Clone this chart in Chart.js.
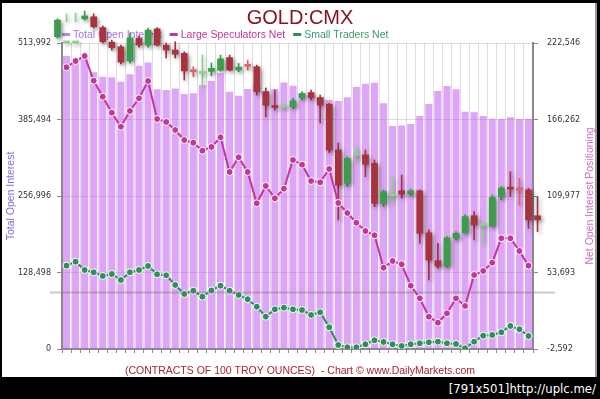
<!DOCTYPE html>
<html>
<head>
<meta charset="utf-8">
<script src="https://cdn.jsdelivr.net/npm/chart.js@4.4.0/dist/chart.umd.min.js"></script>
<style>
  html, body { margin: 0; padding: 0; background: #000; width: 600px; height: 399px; overflow: hidden; }
  #panel { position: absolute; left: 2px; top: 3px; width: 593px; height: 374px; background: #fff; border-right: 2px solid #9a9a9a; }
  #stamp { position: absolute; right: 4px; top: 381px; color: #fff; font: 13px "DejaVu Sans Condensed", "DejaVu Sans", sans-serif; }
</style>
</head>
<body>
<div id="panel"><canvas id="grafico" width="593" height="374"></canvas></div>
<div id="stamp">[791x501]http://uplc.me/</div>
<script>
// x axis: one bar per week, 25 Sep 12 .. 17 Sep 13, label every 8 weeks
const tickLabels = ['25 Sep 12', '20 Nov 12', '15 Jan 13', '12 Mar 13', '07 May 13', '02 Jul 13', '27 Aug 13'];
const labelEvery = 8;

// left axis (contracts)
const leftMin = 0, leftMax = 513992, leftStep = 128498;
// right axis (net positions)
const rightMin = -2592, rightMax = 222546, rightStep = 56284.5;

const openInterest = [
  492150, 487100, 493800, 464800, 457400, 456400, 449000, 461400, 475900, 481200,
  436200, 435000, 437600, 428300, 429500, 443400, 450200, 463100, 432200, 425500,
  436700, 445100, 433400, 436700, 447600, 442300, 428300, 425000, 421600, 418200,
  416600, 422800, 440100, 445600, 447300, 412700, 374600, 375400, 377900, 391400,
  411500, 433400, 441800, 436200, 398600, 397600, 391400, 386800, 386300, 389200,
  386300, 386800
];

const largeSpec = [
  204670, 209300, 212980, 194810, 183040, 171270, 160970, 172520, 181860, 194590,
  166630, 164430, 158540, 151180, 149200, 143310, 146030, 153170, 127640, 138460,
  127640, 104610, 117340, 108290, 115360, 136470, 133010, 121020, 120060, 129850,
  104830, 97480, 90340, 84230, 81070, 57230, 62160, 59740, 43990, 34720,
  21190, 16770, 23690, 34720, 29060, 51860, 54810, 60910, 78860, 78860,
  69520, 58710
];

const smallTraders = [
  58710, 61650, 55540, 53850, 51130, 52600, 48190, 53850, 55540, 58490,
  52380, 51640, 44510, 37890, 40310, 35900, 40460, 43990, 40310, 37150,
  33990, 28540, 21190, 26630, 27810, 26630, 26110, 22440, 24420, 13390,
  370, -1330, -1330, 880, 3820, 2570, 880, -370, 880, 1620,
  2350, 2790, 1620, 1100, -2060, 2790, 7210, 7720, 9710, 14340,
  11920, 6990
];

// gold weekly candles (no axis shown), first candle is one week before the first bar
const priceStart = -1;
const priceOpen = [
  1740, 1784, 1784, 1783, 1788, 1762, 1727, 1716, 1682, 1736,
  1720, 1759, 1720, 1708, 1700, 1658, 1652, 1657, 1660, 1690,
  1660, 1671, 1668, 1608, 1574, 1571, 1572, 1594, 1606, 1594,
  1578, 1468, 1388, 1455, 1456, 1436, 1340, 1358, 1370, 1362,
  1370, 1269, 1202, 1189, 1256, 1269, 1310, 1287, 1285, 1356,
  1377, 1374, 1372, 1310
];
const priceHigh = [
  1783, 1795, 1797, 1802, 1795, 1766, 1732, 1720, 1749, 1742,
  1761, 1762, 1725, 1728, 1704, 1668, 1696, 1677, 1696, 1696,
  1676, 1684, 1672, 1617, 1612, 1576, 1592, 1608, 1612, 1600,
  1580, 1485, 1452, 1476, 1468, 1444, 1372, 1403, 1408, 1374,
  1372, 1276, 1244, 1260, 1272, 1312, 1320, 1292, 1360, 1380,
  1416, 1400, 1376, 1356
];
const priceLow = [
  1737, 1776, 1776, 1780, 1761, 1725, 1708, 1675, 1677, 1715,
  1715, 1718, 1689, 1689, 1636, 1644, 1624, 1646, 1658, 1658,
  1656, 1660, 1600, 1548, 1564, 1568, 1568, 1588, 1588, 1533,
  1462, 1300, 1380, 1440, 1404, 1332, 1332, 1341, 1352, 1358,
  1244, 1156, 1184, 1186, 1252, 1268, 1252, 1244, 1284, 1348,
  1356, 1336, 1280, 1272
];
const priceClose = [
  1780, 1785, 1786, 1790, 1764, 1728, 1714, 1679, 1737, 1720,
  1756, 1720, 1708, 1698, 1658, 1656, 1653, 1664, 1687, 1660,
  1667, 1669, 1608, 1576, 1570, 1573, 1586, 1604, 1594, 1576,
  1468, 1384, 1448, 1456, 1434, 1340, 1368, 1360, 1362, 1370,
  1268, 1204, 1189, 1257, 1268, 1308, 1288, 1289, 1354, 1377,
  1374, 1372, 1300, 1300
];
const priceMin = 990, priceMax = 1725;

// grey guide line across the chart (right axis units)
const guideLine = [38990];

const fmt = v => Math.round(v).toLocaleString('en-US');

const candleColor = (o, c, light) => {
  if (c >= o) return light ? '#86d486' : '#3b9c4b';
  return light ? '#e2636c' : '#a8323e';
};
const candleColors = priceOpen.map((o, i) => candleColor(o, priceClose[i], Math.abs(priceClose[i] - o) < 3));

const decor = {
  id: 'decor',
  beforeDatasetsDraw(chart) {
    const c = chart.ctx;
    c.save();
    // title
    c.fillStyle = '#8a1520';
    c.font = '20px "Liberation Sans", Arial, sans-serif';
    c.textAlign = 'center';
    c.textBaseline = 'middle';
    c.fillText('GOLD:CMX', 298, 15);
    // legend
    const items = [
      ['Total Open Interest', '#a974e6', '#b98ae9'],
      ['Large Speculators Net', '#c4369a', '#c4369a'],
      ['Small Traders Net', '#3c9a6c', '#2f8f5a']
    ];
    c.font = '10.5px "Liberation Sans", Arial, sans-serif';
    c.textAlign = 'left';
    let x = 60;
    items.forEach(([txt, col, mark]) => {
      c.fillStyle = mark;
      c.fillRect(x, 30, 8, 3);
      x += 11;
      c.fillStyle = col;
      c.fillText(txt, x, 32);
      x += c.measureText(txt).width + 8;
    });
    // axis titles
    const a = chart.chartArea;
    const mid = (a.top + a.bottom) / 2;
    c.textAlign = 'center';
    c.save();
    c.translate(9, mid);
    c.rotate(-Math.PI / 2);
    c.fillStyle = '#7b6fe0';
    c.fillText('Total Open Interest', 0, 0);
    c.restore();
    c.save();
    c.translate(588, mid);
    c.rotate(-Math.PI / 2);
    c.fillStyle = '#d46cc4';
    c.fillText('Net Open Interest Positioning', 0, 0);
    c.restore();
    // footer
    c.font = '10.5px "Liberation Sans", Arial, sans-serif';
    c.fillStyle = '#a8242c';
    c.fillText('(CONTRACTS OF 100 TROY OUNCES)  - Chart \u00a9 www.DailyMarkets.com', 298, 368);
    c.restore();
  },
  afterDatasetsDraw(chart) {
    const c = chart.ctx;
    const a = chart.chartArea;
    const y = chart.scales.y2.getPixelForValue(guideLine[0]);
    c.save();
    c.strokeStyle = 'rgba(120,120,120,0.4)';
    c.lineWidth = 2;
    c.beginPath();
    c.moveTo(a.left - 12, y);
    c.lineTo(a.right + 22, y);
    c.stroke();
    c.restore();
  },
  beforeDatasetDraw(chart, args) {
    if (chart.data.datasets[args.index].candle) {
      const c = chart.ctx;
      c.save();
      c.shadowColor = 'rgba(0,0,0,0.35)';
      c.shadowBlur = 4;
      c.shadowOffsetX = 2;
      c.shadowOffsetY = 2;
    }
  },
  afterDatasetDraw(chart, args) {
    if (chart.data.datasets[args.index].candle) chart.ctx.restore();
  }
};

window.onload = function () {
  const ctx = document.getElementById('grafico').getContext('2d');
  const tickFont = { family: '"DejaVu Sans", Verdana, sans-serif', size: 8 };
  new Chart(ctx, {
    type: 'bar',
    data: {
      datasets: [
        {
          type: 'line',
          label: 'Large Speculators Net',
          data: largeSpec.map((v, i) => ({ x: i, y: v })),
          yAxisID: 'y2',
          borderColor: '#c4369a',
          borderWidth: 2,
          pointRadius: 3.5,
          pointBackgroundColor: '#c4369a',
          pointBorderColor: '#ffffff',
          pointBorderWidth: 1,
          order: 1
        },
        {
          type: 'line',
          label: 'Small Traders Net',
          data: smallTraders.map((v, i) => ({ x: i, y: v })),
          yAxisID: 'y2',
          borderColor: '#2f8f5a',
          borderWidth: 2,
          pointRadius: 3.5,
          pointBackgroundColor: '#2f8f5a',
          pointBorderColor: '#ffffff',
          pointBorderWidth: 1,
          order: 2
        },
        {
          label: 'body',
          candle: true,
          data: priceOpen.map((o, i) => ({ x: i + priceStart, y: [o, priceClose[i]] })),
          yAxisID: 'yP',
          backgroundColor: candleColors,
          barThickness: 6,
          minBarLength: 2,
          grouped: false,
          clip: false,
          order: 3
        },
        {
          label: 'wick',
          candle: true,
          data: priceHigh.map((h, i) => ({ x: i + priceStart, y: [priceLow[i], h] })),
          yAxisID: 'yP',
          backgroundColor: candleColors,
          barThickness: 1,
          grouped: false,
          clip: false,
          order: 4
        },
        {
          label: 'Total Open Interest',
          data: openInterest.map((v, i) => ({ x: i, y: v })),
          yAxisID: 'y',
          backgroundColor: 'rgba(195,90,240,0.55)',
          barPercentage: 0.78,
          categoryPercentage: 1,
          grouped: false,
          order: 5
        }
      ]
    },
    options: {
      responsive: false,
      animation: false,
      layout: { padding: { top: 40, left: 0, right: 0, bottom: 0 } },
      plugins: { legend: { display: false }, tooltip: { enabled: false } },
      scales: {
        x: {
          type: 'linear',
          min: -0.5,
          max: openInterest.length - 0.5,
          offset: false,
          grid: {
            offset: false,
            color: c => (c.tick && c.tick.value % labelEvery === 0) ? 'rgba(90,90,110,0.55)' : 'rgba(0,0,0,0.13)',
            tickLength: 4,
            tickColor: '#8a8a8a'
          },
          border: { color: '#8a8a8a', width: 2 },
          ticks: {
            stepSize: 1,
            includeBounds: false,
            autoSkip: false,
            maxRotation: 0,
            padding: 2,
            font: tickFont,
            color: '#333',
            callback: v => (v % labelEvery === 0) ? tickLabels[v / labelEvery] : ''
          },
          afterFit: s => { s.height = 28; }
        },
        y: {
          position: 'left',
          min: leftMin,
          max: leftMax,
          grid: { color: 'rgba(0,0,0,0.12)', tickLength: 5, tickColor: '#8a8a8a' },
          border: { color: '#8a8a8a', width: 2 },
          ticks: { stepSize: leftStep, padding: 6, font: tickFont, color: '#333', callback: fmt },
          afterFit: s => { s.width = 60; }
        },
        y2: {
          position: 'right',
          min: rightMin,
          max: rightMax,
          grid: { drawOnChartArea: false, tickLength: 5, tickColor: '#8a8a8a' },
          border: { color: '#8a8a8a', width: 2 },
          ticks: { stepSize: rightStep, padding: 9, font: tickFont, color: '#333', callback: fmt },
          afterFit: s => { s.width = 62; }
        },
        yP: { display: false, min: priceMin, max: priceMax }
      }
    },
    plugins: [decor]
  });
};
</script>
</body>
</html>
